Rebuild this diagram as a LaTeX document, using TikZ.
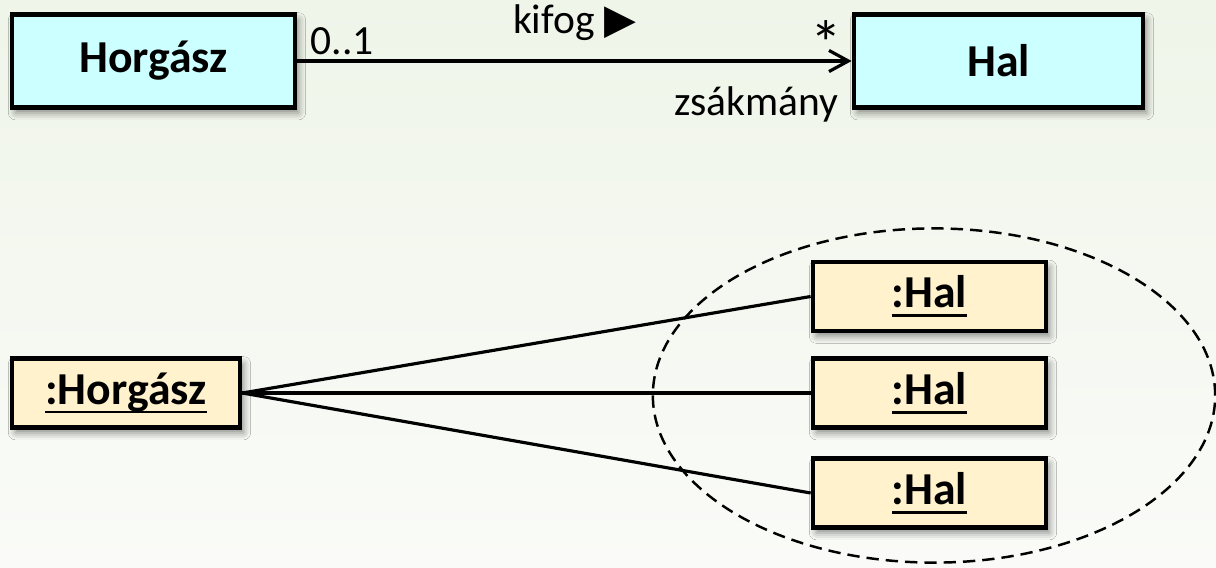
\documentclass[tikz,border=0pt]{standalone}
\usepackage{fontspec}
\setmainfont{Carlito}
\newfontfamily\symfont{DejaVu Sans}
\usetikzlibrary{arrows.meta,shadows.blur}

\definecolor{classfill}{HTML}{CCFFFF}
\definecolor{objfill}{HTML}{FFF2CC}
\definecolor{bgtop}{HTML}{EFF5E9}
\definecolor{bgbot}{HTML}{FAFBF8}

% object names: underlined a little below the baseline
\newcommand{\objname}[1]{\setbox0\hbox{#1}\rlap{\rule[-2.6pt]{\wd0}{0.8pt}}\box0}

\tikzset{
  boxshadow/.style={blur shadow={shadow xshift=1pt,shadow yshift=-1.5pt,shadow blur radius=2pt,shadow opacity=45}},
  classbox/.style={draw,line width=1.3pt,fill=classfill,minimum height=0.93cm,boxshadow,
    font=\fontsize{13}{15}\selectfont\bfseries},
  objbox/.style={draw,line width=1.3pt,fill=objfill,minimum height=0.69cm,boxshadow,
    font=\fontsize{13}{15}\selectfont\bfseries},
  lbl/.style={font=\fontsize{11.8}{14}\selectfont},
  assoc/.style={line width=0.9pt,-{Straight Barb[length=5.5pt,width=6pt,line width=0.9pt]}},
  link/.style={line width=0.9pt},
  group/.style={line width=0.7pt,dash pattern=on 3.5pt off 2pt}
}

\begin{document}
\begin{tikzpicture}[x=0.01cm,y=-0.01cm]
    \path[use as bounding box,top color=bgtop,bottom color=bgbot] (0,0) rectangle (1216,567);

    % class diagram
    \node[classbox,minimum width=2.83cm] (horg) at (153.5,61) {Horgász};
    \node[classbox,minimum width=2.89cm] (hal) at (998.5,61) {Hal};
    \draw[assoc] (horg) -- (hal)
      node[lbl,pos=0,above right,yshift=-2pt] {0..1}
      node[lbl,midway,above=2pt] {kifog {\symfont ▶}}
      node[lbl,pos=1,above left,yshift=-5pt,xshift=1pt,font=\fontsize{18}{18}\selectfont] {*}
      node[lbl,pos=1,below left,yshift=-3.5pt] {zsákmány};

    % object diagram
    \draw[group] (934,395.5) ellipse [x radius=2.81cm,y radius=1.67cm];
    \node[objbox,minimum width=2.28cm] (ohorg) at (126,393) {\objname{:Horgász}};
    \foreach \i/\y in {1/296.5,2/393,3/493}
      \node[objbox,minimum width=2.33cm] (hal\i) at (929.5,\y) {\objname{:Hal}};
    \foreach \i in {1,2,3}
      \draw[link] (ohorg.east) -- (hal\i.west);
\end{tikzpicture}
\end{document}
